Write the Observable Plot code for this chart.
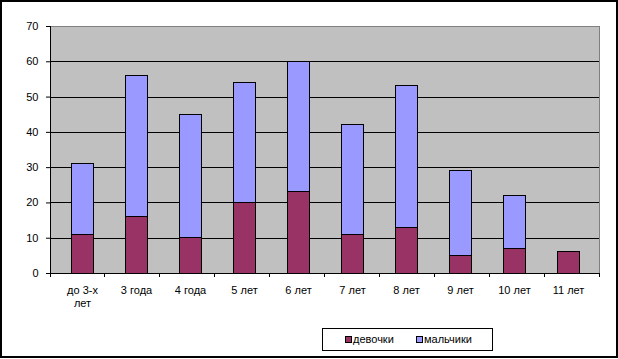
<!DOCTYPE html>
<html>
<head>
<meta charset="utf-8">
<script src="https://cdn.jsdelivr.net/npm/d3@7"></script>
<script src="https://cdn.jsdelivr.net/npm/@observablehq/plot@0.6"></script>
<style>
  html, body { margin: 0; padding: 0; background: #fff; }
  #wrap { position: relative; width: 618px; height: 359px; overflow: hidden; font-family: Arial, "Liberation Sans", sans-serif; }
  #border { position: absolute; left: 0px; top: 0px; width: 614px; height: 354px; border: 2px solid #000; pointer-events: none; }
  #legend { position: absolute; left: 322px; top: 328px; width: 169px; height: 21px; border: 1px solid #000; background: #fff;
            display: flex; align-items: center; font-size: 11px; color: #000; box-sizing: content-box; }
  .item { display: flex; align-items: center; position: absolute; top: 4px; }
  .sw { width: 5px; height: 5px; border: 1px solid #000; margin-right: 1px; }
</style>
</head>
<body>
<div id="wrap">
  <div id="chart"></div>
  <div id="legend"></div>
  <div id="border"></div>
</div>
<script>
const categories = ["до 3-х\nлет", "3 года", "4 года", "5 лет", "6 лет", "7 лет", "8 лет", "9 лет", "10 лет", "11 лет"];
const girls = [11, 16, 10, 20, 23, 11, 13, 5, 7, 6];
const boys  = [20, 40, 35, 34, 37, 31, 40, 24, 15, 0];
const seriesNames = ["девочки", "мальчики"];
const seriesColors = ["#993366", "#9999FF"];
const yTicks = [0, 10, 20, 30, 40, 50, 60, 70];
const gridTicks = [10, 20, 30, 40, 50, 60];

const rows = [];
categories.forEach((c, i) => {
  rows.push({cat: c, series: seriesNames[0], value: girls[i]});
  rows.push({cat: c, series: seriesNames[1], value: boys[i]});
});
const barRows = rows.filter(d => d.value > 0);

function bandTicks(index, scales, values, dimensions) {
  const {width, height, marginLeft, marginRight, marginBottom} = dimensions;
  const g = d3.create("svg:g");
  const n = categories.length;
  const step = (width - marginLeft - marginRight) / n;
  const y0 = height - marginBottom;
  for (let i = 0; i <= n; i++) {
    const x = marginLeft + i * step;
    g.append("line").attr("x1", x).attr("x2", x).attr("y1", y0).attr("y2", y0 + 4)
      .attr("stroke", "#000").attr("shape-rendering", "crispEdges");
  }
  // left axis line
  g.append("line").attr("x1", marginLeft).attr("x2", marginLeft)
    .attr("y1", dimensions.marginTop).attr("y2", y0)
    .attr("stroke", "#000").attr("shape-rendering", "crispEdges");
  return g.node();
}

const chart = Plot.plot({
  width: 618,
  height: 359,
  marginLeft: 50,
  marginRight: 19,
  marginTop: 26,
  marginBottom: 86,
  style: {fontFamily: "Arial, 'Liberation Sans', sans-serif", fontSize: "11px", background: "transparent", color: "#000"},
  x: {domain: categories, paddingInner: 0.6, paddingOuter: 0.3, label: null},
  y: {domain: [0, 70], label: null},
  color: {domain: seriesNames, range: seriesColors},
  marks: [
    Plot.frame({fill: "#C0C0C0", stroke: "#808080", shapeRendering: "crispEdges"}),
    Plot.ruleY(gridTicks, {stroke: "#000", strokeWidth: 1, shapeRendering: "crispEdges"}),
    Plot.barY(barRows, Plot.stackY({x: "cat", y: "value", fill: "series", order: seriesNames, stroke: "#000", strokeWidth: 1, shapeRendering: "crispEdges"})),
    Plot.ruleY([0], {stroke: "#000", shapeRendering: "crispEdges"}),
    Plot.axisY({ticks: yTicks, tickSize: 4, tickPadding: 8, stroke: "#000", fontSize: 11, label: null, tickFormat: d => String(d)}),
    Plot.axisX({tickSize: 0, tickPadding: 12, fontSize: 11, label: null, lineHeight: 1.15}),
    bandTicks
  ]
});
document.getElementById("chart").appendChild(chart);

const legend = document.getElementById("legend");
const lefts = [22, 93];
seriesNames.forEach((name, i) => {
  const it = document.createElement("div");
  it.className = "item";
  it.style.left = lefts[i] + "px";
  const sw = document.createElement("span");
  sw.className = "sw";
  sw.style.background = seriesColors[i];
  const tx = document.createElement("span");
  tx.textContent = name;
  it.appendChild(sw);
  it.appendChild(tx);
  legend.appendChild(it);
});
</script>
</body>
</html>
